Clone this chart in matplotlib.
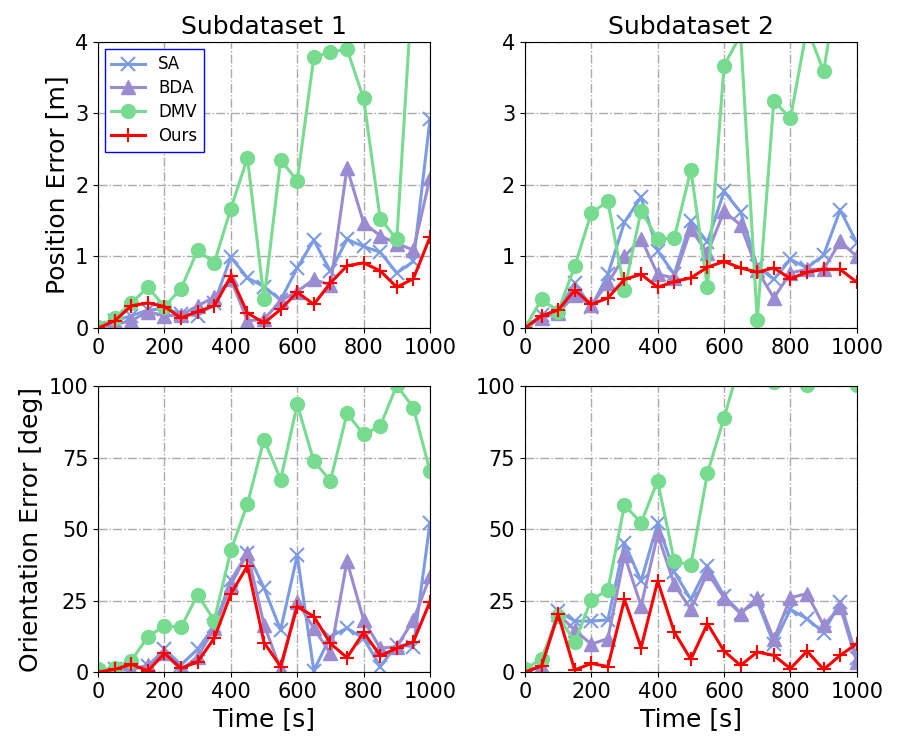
import matplotlib
matplotlib.use("Agg")
import matplotlib.pyplot as plt
import numpy as np

# time axis (s)
t = np.arange(0, 1001, 50)

# position error [m], subdataset 1
pos1_sa = [0, 0.10, 0.17, 0.25, 0.27, 0.20, 0.17, 0.35, 0.99, 0.70, 0.58, 0.39, 0.84, 1.23, 0.79, 1.24, 1.14, 1.06, 0.77, 0.93, 2.92]
pos1_bda = [0, 0.05, 0.10, 0.23, 0.17, 0.18, 0.31, 0.43, 0.68, 0.10, 0.12, 0.38, 0.51, 0.68, 0.60, 2.24, 1.47, 1.29, 1.18, 1.09, 2.10]
pos1_dmv = [0.02, 0.14, 0.35, 0.57, 0.30, 0.55, 1.09, 0.91, 1.67, 2.38, 0.40, 2.35, 2.06, 3.79, 3.86, 3.90, 3.21, 1.53, 1.24, 5.0, 5.5]
pos1_ours = [0, 0.10, 0.31, 0.35, 0.30, 0.14, 0.23, 0.31, 0.72, 0.21, 0.07, 0.26, 0.50, 0.33, 0.63, 0.87, 0.91, 0.80, 0.57, 0.69, 1.27]

# position error [m], subdataset 2
pos2_sa = [0, 0.18, 0.23, 0.63, 0.29, 0.75, 1.48, 1.83, 1.08, 0.75, 1.50, 1.20, 1.91, 1.62, 0.86, 0.68, 0.96, 0.84, 1.02, 1.65, 1.19]
pos2_bda = [0, 0.14, 0.21, 0.46, 0.32, 0.63, 1.00, 1.25, 0.75, 0.70, 1.38, 1.05, 1.63, 1.44, 0.81, 0.42, 0.77, 0.82, 0.82, 1.21, 1.00]
pos2_dmv = [0, 0.40, 0.23, 0.86, 1.61, 1.77, 0.53, 1.64, 1.24, 1.26, 2.21, 0.57, 3.67, 4.1, 0.11, 3.18, 2.93, 4.2, 3.59, 5.0, 5.5]
pos2_ours = [0, 0.17, 0.25, 0.53, 0.33, 0.42, 0.68, 0.75, 0.57, 0.65, 0.70, 0.85, 0.93, 0.84, 0.78, 0.84, 0.69, 0.78, 0.82, 0.82, 0.64]

# orientation error [deg], subdataset 1
ori1_sa = [0, 1.2, 1.3, 2.0, 8.0, 2.5, 8.0, 16.0, 32.0, 41.6, 29.4, 14.7, 40.8, 0.5, 12.4, 15.3, 11.8, 1.9, 9.5, 8.9, 52.1]
ori1_bda = [0, 0.7, 0.7, 2.5, 6.5, 0.7, 5.4, 15.3, 30.5, 41.6, 16.5, 0.9, 24.6, 15.3, 6.5, 38.7, 18.2, 8.3, 8.9, 18.2, 33.4]
ori1_dmv = [1.0, 1.3, 3.9, 12.4, 16.1, 15.7, 27.0, 18.0, 42.5, 58.8, 81.3, 67.3, 93.6, 73.7, 66.9, 90.4, 83.1, 86.0, 100.2, 92.4, 70.2]
ori1_ours = [0, 0.9, 2.7, 0.4, 6.5, 1.3, 3.6, 11.8, 27.3, 37.1, 10.3, 1.9, 22.9, 19.4, 10.0, 5.0, 13.9, 5.7, 8.3, 10.6, 24.6]

# orientation error [deg], subdataset 2
ori2_sa = [0, 2.1, 21.3, 17.8, 17.8, 18.2, 45.2, 31.8, 52.0, 35.0, 25.4, 37.0, 26.6, 20.7, 24.8, 9.9, 21.9, 18.6, 13.8, 24.5, 5.0]
ori2_bda = [0, 1.9, 20.2, 14.7, 9.7, 11.7, 40.8, 23.1, 48.1, 30.7, 21.9, 34.7, 26.0, 20.4, 26.0, 11.4, 26.0, 27.4, 16.3, 22.7, 3.5]
ori2_dmv = [0.9, 4.7, 19.6, 10.6, 25.2, 28.7, 58.4, 52.2, 66.8, 38.8, 37.4, 69.5, 88.9, 109.0, 108.0, 101.5, 106.0, 100.5, 110.0, 105.0, 100.2]
ori2_ours = [0, 2.1, 20.2, 0.7, 3.0, 1.9, 25.4, 8.5, 31.8, 14.0, 4.4, 16.9, 7.3, 2.3, 7.0, 5.8, 1.2, 7.3, 0.9, 5.8, 9.9]

labels = ['SA', 'BDA', 'DMV', 'Ours']
colors = ['#7b9be3', '#9b8bd0', '#77db90', '#ff0000']
markers = ['x', '^', 'o', '+']

panels = [
    [pos1_sa, pos1_bda, pos1_dmv, pos1_ours],
    [pos2_sa, pos2_bda, pos2_dmv, pos2_ours],
    [ori1_sa, ori1_bda, ori1_dmv, ori1_ours],
    [ori2_sa, ori2_bda, ori2_dmv, ori2_ours],
]

fig, axes = plt.subplots(2, 2, figsize=(9, 7.5), dpi=100)
fig.subplots_adjust(left=0.109, right=0.952, top=0.944, bottom=0.104,
                    wspace=0.286, hspace=0.203)

for i, ax in enumerate(axes.flat):
    for series, lab, c, m in zip(panels[i], labels, colors, markers):
        ax.plot(t, series, color=c, marker=m, label=lab, linewidth=2.2,
                markersize=10, markeredgewidth=1.5 if m in ('x', '+') else 1,
                markeredgecolor=c)
    ax.set_xlim(0, 1000)
    ax.set_xticks([0, 200, 400, 600, 800, 1000])
    ax.grid(True, linestyle='-.', color='#aaaaaa', linewidth=1)
    ax.tick_params(labelsize=15)
    if i < 2:
        ax.set_ylim(0, 4)
        ax.set_yticks([0, 1, 2, 3, 4])
    else:
        ax.set_ylim(0, 100)
        ax.set_yticks([0, 25, 50, 75, 100])
        ax.set_xlabel('Time [s]', fontsize=18)

axes[0, 0].set_title('Subdataset 1', fontsize=18)
axes[0, 1].set_title('Subdataset 2', fontsize=18)
axes[0, 0].set_ylabel('Position Error [m]', fontsize=18)
axes[1, 0].set_ylabel('Orientation Error [deg]', fontsize=18)

leg = axes[0, 0].legend(loc='upper left', fontsize=12, fancybox=False,
                        edgecolor='blue', framealpha=1, labelspacing=0.35,
                        borderaxespad=0.4)
leg.get_frame().set_linewidth(1)

fig.savefig('out.png', dpi=100)
